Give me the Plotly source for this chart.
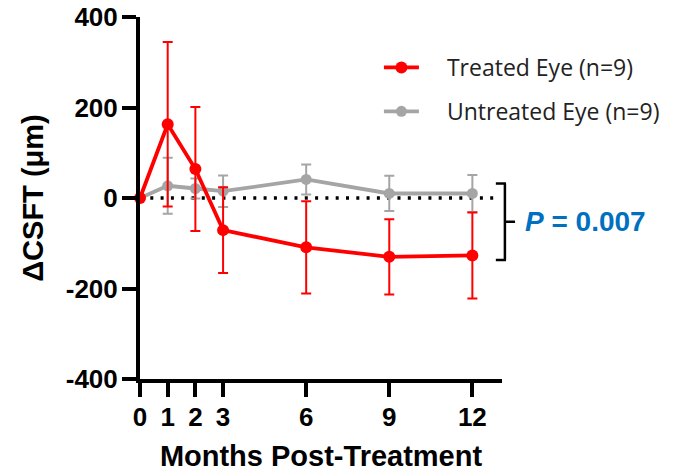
import plotly.graph_objects as go

months = [0, 1, 2, 3, 6, 9, 12]
treated_mean = [0, 163, 64, -71, -109, -130, -127]
treated_sd = [None, 182, 137, 95, 102, 83, 95]
untreated_mean = [0, 27, 21, 15, 41, 10, 10]
untreated_sd = [None, 62, 22, 35, 33, 39, 41]
y_ticks = [-400, -200, 0, 200, 400]
y_ticktext = ["-400", "-200", "0", "200", "400"]
bracket_top, bracket_bottom = 32, -137
p_text = "<i>P</i> = 0.007"

RED = "#FF0000"
GRAY = "#A5A5A5"
BLUE = "#0070C0"
YMIN, YMAX = -400, 400
XMAX = 13.07

def ypaper(v):
    return (v - YMIN) / (YMAX - YMIN)

fig = go.Figure()
fig.add_trace(go.Scatter(
    x=months, y=untreated_mean, name="\u2003Untreated Eye (n=9)", legendgroup="u", legendrank=2,
    mode="lines+markers", line=dict(color=GRAY, width=3.8),
    marker=dict(color=GRAY, size=11),
    error_y=dict(type="data", array=untreated_sd, color=GRAY, thickness=2, width=5),
    cliponaxis=False))
fig.add_trace(go.Scatter(
    x=months, y=treated_mean, name="\u2003Treated Eye (n=9)", legendgroup="t", legendrank=1,
    mode="lines+markers", line=dict(color=RED, width=3.8),
    marker=dict(color=RED, size=12),
    error_y=dict(type="data", array=treated_sd, color=RED, thickness=2, width=5),
    cliponaxis=False))

shapes = [
    dict(type="line", xref="paper", yref="y", x0=0, x1=0.995, y0=0, y1=0,
         line=dict(color="black", width=3.5, dash="3px,7.3px"), layer="below"),
]
bx = 1.008
for yv in [bracket_top, bracket_bottom]:
    shapes.append(dict(type="line", xref="paper", yref="paper", x0=0.983, x1=bx + 0.003,
                       y0=ypaper(yv), y1=ypaper(yv), line=dict(color="black", width=2.5)))
shapes.append(dict(type="line", xref="paper", yref="paper", x0=bx, x1=bx,
                   y0=ypaper(bracket_top), y1=ypaper(bracket_bottom),
                   line=dict(color="black", width=2.5)))
mid = (bracket_top + bracket_bottom) / 2
shapes.append(dict(type="line", xref="paper", yref="paper", x0=bx, x1=1.036,
                   y0=ypaper(mid), y1=ypaper(mid), line=dict(color="black", width=2.5)))

annotations = [
    dict(text=p_text, xref="paper", yref="paper", x=1.058, y=ypaper(mid),
         xanchor="left", yanchor="middle", showarrow=False,
         font=dict(family="Liberation Sans", size=28, color=BLUE, weight="bold")),
    dict(text="(", xref="paper", yref="paper", x=0.354, y=1.022,
         xanchor="center", yanchor="bottom", showarrow=False,
         font=dict(family="Liberation Sans", size=28, color="black", weight="bold")),
    dict(text=")", xref="paper", yref="paper", x=0.831, y=1.022,
         xanchor="center", yanchor="bottom", showarrow=False,
         font=dict(family="Liberation Sans", size=28, color="black", weight="bold")),
]

fig.update_layout(
    width=671, height=464,
    margin=dict(l=132, r=177, t=9, b=93, autoexpand=False),
    paper_bgcolor="white", plot_bgcolor="white",
    showlegend=True,
    legend=dict(x=0.660, y=0.92, xanchor="left", yanchor="top",
                traceorder="grouped", tracegroupgap=11, itemwidth=35,
                font=dict(family="Open Sans", size=23, color="#222222"),
                bgcolor="rgba(0,0,0,0)"),
    shapes=shapes, annotations=annotations,
    xaxis=dict(range=[0, XMAX], tickvals=months, ticktext=[str(m) for m in months],
               automargin=False, ticklabeloverflow="allow",
               showgrid=False, zeroline=False, showline=True, linecolor="black", linewidth=4,
               ticks="outside", ticklen=14, tickwidth=4, tickcolor="black",
               ticklabelstandoff=-2,
               tickfont=dict(family="Liberation Sans", size=26, color="black", weight="bold"),
               title=dict(text="Months Post-Treatment", standoff=20,
                          font=dict(family="Liberation Sans", size=29, color="black", weight="bold"))),
    yaxis=dict(range=[YMIN, YMAX], tickvals=y_ticks, ticktext=y_ticktext,
               automargin=False, ticklabeloverflow="allow",
               showgrid=False, zeroline=False, showline=True, linecolor="black", linewidth=4,
               ticks="outside", ticklen=14, tickwidth=4, tickcolor="black",
               ticklabelstandoff=-1,
               tickfont=dict(family="Liberation Sans", size=26, color="black", weight="bold"),
               title=dict(text="ΔCSFT (μm)", standoff=15,
                          font=dict(family="Liberation Sans", size=29, color="black", weight="bold"))),
)

fig.write_html("out.html")
